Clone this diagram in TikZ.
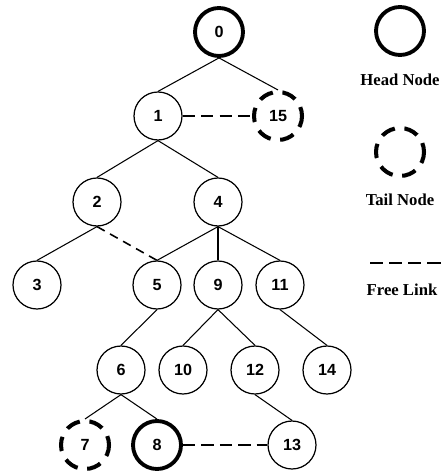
\documentclass[tikz,border=0pt]{standalone}
\usepackage{fontspec}
\setmainfont{Liberation Serif}
\setsansfont{Liberation Sans}
\begin{document}
\begin{tikzpicture}[x=0.02cm,y=-0.02cm,line join=round,
    vert/.style={circle,draw,line width=0.7pt,minimum size=0.96cm,inner sep=0pt,
      font=\fontsize{9.2}{11}\selectfont\sffamily\bfseries},
    head/.style={vert,line width=2.2pt},
    tail/.style={vert,line width=2.3pt,dash pattern=on 8.2pt off 5.5pt,dash phase=3pt},
    edge/.style={line width=0.6pt},
    freelink/.style={line width=1.2pt,dash pattern=on 7pt off 3.5pt},
    legend/.style={font=\fontsize{9.5}{11}\selectfont\bfseries}]
  \useasboundingbox (0,0) rectangle (442,475);
  % tree
  \node[head] (n0) at (219,32) {0};
  \node[vert] (n1) at (158,116) {1};
  \node[tail] (n15) at (278,116) {15};
  \node[vert] (n2) at (97,202) {2};
  \node[vert] (n4) at (218,202) {4};
  \node[vert] (n3) at (37,285) {3};
  \node[vert] (n5) at (157,285) {5};
  \node[vert] (n9) at (218,285) {9};
  \node[vert] (n11) at (280,285) {11};
  \node[vert] (n6) at (121,370) {6};
  \node[vert] (n10) at (183,370) {10};
  \node[vert] (n12) at (255,370) {12};
  \node[vert] (n14) at (327,370) {14};
  \node[tail] (n7) at (85,445) {7};
  \node[head] (n8) at (157,445) {8};
  \node[vert] (n13) at (292,445) {13};
  \draw[edge] (n0.south) -- (n1.north);
  \draw[edge] (n0.south) -- (n15.north);
  \draw[edge] (n1.south) -- (n2.north);
  \draw[edge] (n1.south) -- (n4.north);
  \draw[edge] (n2.south) -- (n3.north);
  \draw[edge] (n4.south) -- (n5.north);
  \draw[edge] (n4.south) -- (n9.north);
  \draw[edge] (n4.south) -- (n11.north);
  \draw[edge] (n5.south) -- (n6.north);
  \draw[edge] (n9.south) -- (n10.north);
  \draw[edge] (n9.south) -- (n12.north);
  \draw[edge] (n11.south) -- (n14.north);
  \draw[edge] (n6.south) -- (n7.north);
  \draw[edge] (n6.south) -- (n8.north);
  \draw[edge] (n12.south) -- (n13.north);
  % free links
  \draw[freelink] (n1.east) -- (n15.west);
  \draw[freelink,line width=0.9pt,dash pattern=on 5pt off 3.5pt] (n2.south) -- (n5.north);
  \draw[freelink] (n8.east) -- (n13.west);
  % legend
  \node[head] (hd) at (400,31) {};
  \node[legend] (hdtext) at (400,80) {Head Node};
  \node[tail] (tl) at (400,152) {};
  \node[legend] (tltext) at (400,200) {Tail Node};
  \coordinate (fl1) at (370,263);
  \coordinate (fl2) at (442,263);
  \draw[freelink,line width=0.9pt,dash pattern=on 7.5pt off 3.4pt] (fl1) -- (fl2);
  \node[legend] (fltext) at (402,290) {Free Link};
\end{tikzpicture}
\end{document}
